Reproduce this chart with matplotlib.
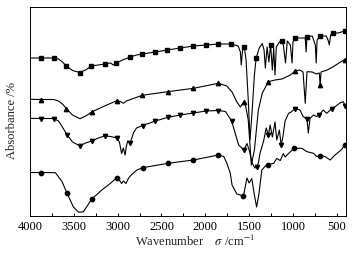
import numpy as np
import matplotlib
matplotlib.use("Agg")
import matplotlib.pyplot as plt

plt.rcParams['font.family'] = ['Liberation Serif', 'DejaVu Serif']
plt.rcParams['mathtext.fontset'] = 'stix'

# ---- data (wavenumber cm^-1, absorbance in arbitrary offset units) ----
sq_wn = [4000, 3880, 3730, 3675, 3630, 3585, 3515, 3435, 3365, 3300, 3220, 3150, 3080, 3050, 3015,
         2945, 2855, 2785, 2720, 2570, 2435, 2285, 2135, 1990, 1850, 1705, 1625, 1600, 1590, 1575,
         1555, 1535, 1510, 1490, 1465, 1440, 1420, 1385, 1350, 1330, 1315, 1295, 1275, 1255, 1235,
         1220, 1205, 1190, 1155, 1130, 1110, 1085, 1065, 1030, 1010, 1000, 975, 900, 860, 850, 840,
         780, 745, 735, 725, 690, 620, 600, 585, 570, 540, 485, 410]
sq_val = [158, 158, 158, 157, 154, 150, 145.5, 143.5, 146, 150, 151, 152, 153, 151, 153,
          156, 159, 161, 162, 164, 166, 168, 170, 171, 172, 172, 170, 164, 151, 166,
          169, 156, 116, 76, 106, 141, 158, 168, 172.5, 166, 148, 169, 154, 171, 146,
          168, 141, 169, 174, 175, 171, 153, 175, 171, 153, 174, 178, 178, 178, 164, 179.5,
          180, 171, 153, 176, 180, 180, 176, 171, 181, 183, 183, 185]
sq_marks = [3880, 3730, 3585, 3435, 3300, 3150, 3015, 2855, 2720, 2570, 2435, 2285, 2135, 1990,
            1850, 1705, 1555, 1420, 1255, 1130, 975, 840, 690, 540, 410]

tu_wn = [4000, 3870, 3730, 3675, 3630, 3585, 3515, 3430, 3365, 3295, 3150, 3010, 2970, 2935, 2900,
         2720, 2430, 2135, 1850, 1755, 1695, 1640, 1600, 1560, 1540, 1510, 1475, 1440, 1395, 1350,
         1280, 1205, 1125, 1030, 975, 920, 885, 860, 840, 780, 735, 700, 690, 680, 610, 540, 475, 410]
tu_val = [116.7, 116.5, 116.5, 115, 112, 107.5, 101, 97.3, 100, 104, 110, 115.3, 114.5, 112.7, 115,
          120.7, 124.3, 127.7, 132.7, 130, 124, 114, 109, 114.3, 110, 96, 51, 66, 106, 123,
          134.3, 136, 137, 141, 145, 146, 144, 112.7, 144.3, 144, 142, 143, 131, 144, 146, 149.3, 153, 156.5]
tu_marks = [3870, 3585, 3295, 3010, 2720, 2430, 2135, 1850, 1560, 1280, 975, 690, 410]

td_wn = [4000, 3870, 3730, 3675, 3630, 3580, 3515, 3435, 3365, 3295, 3220, 3150, 3080, 3010, 2980,
         2955, 2935, 2915, 2900, 2885, 2855, 2820, 2785, 2715, 2570, 2425, 2285, 2135, 1995, 1850,
         1770, 1700, 1620, 1560, 1525, 1500, 1465, 1435, 1415, 1395, 1375, 1335, 1305, 1280, 1260,
         1235, 1205, 1185, 1155, 1135, 1115, 1090, 1050, 1020, 995, 975, 920, 885, 840, 825, 805,
         765, 730, 700, 655, 615, 555, 520, 460, 425, 405]
td_val = [97.7, 97.5, 97.5, 95, 89, 81.5, 74, 70.3, 73, 75, 78, 80, 79.5, 78, 74,
          62.5, 68, 61, 70, 75, 73.5, 83, 88, 90.5, 95, 98.7, 101, 103, 105, 105.5,
          104.5, 95, 71, 66, 72.5, 66, 53, 48, 49, 53, 63, 75, 88, 81, 91,
          79, 94, 76, 86, 71, 79, 95, 102.7, 104, 106, 107.5, 106, 99.5, 96.7, 83, 97.7,
          101, 99.5, 101, 106, 102.7, 107.5, 109.3, 113.3, 114.3, 110]
td_marks = [3870, 3730, 3580, 3435, 3295, 3150, 3010, 2855, 2715, 2570, 2425, 2285, 2135, 1995,
            1850, 1700, 1560, 1415, 1280, 1135, 975, 840, 700, 555, 405]

ci_wn = [4000, 3870, 3710, 3635, 3580, 3505, 3445, 3390, 3295, 3180, 3085, 3010, 2980, 2955, 2935,
         2905, 2875, 2840, 2780, 2715, 2425, 2135, 1850, 1790, 1755, 1715, 1695, 1640, 1600, 1565,
         1525, 1500, 1470, 1440, 1415, 1390, 1355, 1315, 1280, 1220, 1185, 1145, 1110, 1090, 1045,
         985, 900, 840, 765, 730, 690, 635, 575, 520, 445, 410]
ci_val = [43.5, 43.5, 43.3, 34.5, 23.3, 9, 3.7, 4.3, 17, 26, 32.5, 38.3, 36, 32.5, 35,
          32.5, 38, 41.5, 46, 48.3, 52.7, 56, 61, 59.5, 53, 42.7, 31, 22, 21, 20,
          38, 33, 37.5, 21, 9, 21, 46, 50, 51.5, 52.7, 57.5, 55.5, 62.5, 59, 63,
          67.7, 67.7, 64.3, 62.7, 59.5, 60.5, 59.5, 56, 61, 66.5, 71]
ci_marks = [3870, 3580, 3295, 3010, 2715, 2425, 2135, 1850, 1565, 1280, 985, 690, 410]

xticks = [4000, 3500, 3000, 2500, 2000, 1500, 1000, 500]

# ---- figure ----
fig = plt.figure(figsize=(3.61, 2.54), dpi=100)
ax = fig.add_axes([30 / 361, 38 / 254, 316 / 361, 209 / 254])

series = [(sq_wn, sq_val, sq_marks, 's'),
          (tu_wn, tu_val, tu_marks, '^'),
          (td_wn, td_val, td_marks, 'v'),
          (ci_wn, ci_val, ci_marks, 'o')]
for wn, val, marks, m in series:
    wn = np.asarray(wn)
    idx = list(np.where(np.isin(wn, marks))[0])
    ax.plot(wn, val, color='black', lw=0.8, marker=m, markersize=3.1,
            markevery=idx, markerfacecolor='black', markeredgecolor='black')

ax.set_xlim(4000, 395)
ax.set_ylim(0, 209)
ax.set_xticks(xticks)
ax.set_xticks(np.arange(750, 4000, 500), minor=True)
ax.set_yticks([])
ax.tick_params(axis='x', which='both', direction='in', length=2.5, width=0.7,
               labelsize=9, pad=3.5, top=False)
for s in ax.spines.values():
    s.set_linewidth(0.7)

ax.set_ylabel('Absorbance /%', fontsize=9, color='#222222')
ax.yaxis.set_label_coords(-0.038, 0.455)
ax.set_xlabel('Wavenumber    $\\sigma$ /cm$^{-1}$', fontsize=9, color='#222222')
ax.xaxis.set_label_coords(0.52, -0.085)
ax.xaxis.label.set_verticalalignment('top')

fig.savefig('out.png', dpi=100)
